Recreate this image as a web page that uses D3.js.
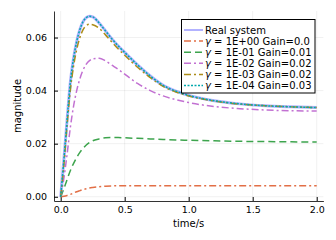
<!DOCTYPE html>
<html lang="en">
<head>
<meta charset="UTF-8">
<title>Step response magnitude</title>
<script src="https://d3js.org/d3.v7.min.js"></script>
<style>
  body { margin: 0; background: #fff; }
  svg { display: block; font-family: "DejaVu Sans", sans-serif; }
</style>
</head>
<body>
<div id="chart"></div>
<script>
// sample times (s)
const times = [0, 0.025, 0.05, 0.075, 0.1, 0.125, 0.15, 0.175, 0.2, 0.225, 0.25, 0.3, 0.35, 0.4, 0.45, 0.5,
               0.6, 0.7, 0.8, 0.9, 1.0, 1.2, 1.4, 1.6, 1.8, 2.0];

// magnitudes
const realSystem = [0, 0.014, 0.029, 0.043, 0.052, 0.0585, 0.063, 0.066, 0.0675, 0.068, 0.0678, 0.0655, 0.0625, 0.0595, 0.0568, 0.0544,
                    0.0497, 0.0455, 0.042, 0.0398, 0.0382, 0.0362, 0.035, 0.0343, 0.0339, 0.0336];
const gamma1e0 = [0, 0.0002, 0.0005, 0.0009, 0.0014, 0.0019, 0.0023, 0.0027, 0.003, 0.0033, 0.0035, 0.0038, 0.004, 0.0041, 0.0041, 0.0041,
                  0.0041, 0.0041, 0.0041, 0.0041, 0.0041, 0.0041, 0.0041, 0.0041, 0.0041, 0.0041];
const gamma1e1 = [0, 0.003, 0.0065, 0.0098, 0.0125, 0.0148, 0.0167, 0.0182, 0.0195, 0.0204, 0.0211, 0.0218, 0.0222, 0.0223, 0.0223, 0.0222,
                  0.022, 0.0218, 0.0216, 0.0214, 0.0213, 0.0211, 0.0209, 0.0208, 0.0207, 0.0206];
const gamma1e2 = [0, 0.007, 0.016, 0.026, 0.034, 0.04, 0.0445, 0.0478, 0.05, 0.0513, 0.052, 0.0522, 0.0512, 0.0496, 0.048, 0.0462,
                  0.0427, 0.04, 0.038, 0.0366, 0.0355, 0.034, 0.0332, 0.0327, 0.0324, 0.0323];
const gamma1e3 = [0, 0.012, 0.027, 0.04, 0.049, 0.0555, 0.06, 0.063, 0.0645, 0.065, 0.0648, 0.0635, 0.061, 0.0583, 0.0557, 0.0533,
                  0.0488, 0.0449, 0.0416, 0.0395, 0.038, 0.0361, 0.0349, 0.0343, 0.0339, 0.0336];
const gamma1e4 = [0, 0.014, 0.029, 0.043, 0.052, 0.0585, 0.063, 0.066, 0.0675, 0.068, 0.0678, 0.0655, 0.0625, 0.0595, 0.0568, 0.0544,
                  0.0497, 0.0455, 0.042, 0.0398, 0.0382, 0.0362, 0.035, 0.0343, 0.0339, 0.0336];

const gammaLabels = ["1E+00", "1E-01", "1E-02", "1E-03", "1E-04"];
const gainLabels = ["0.0", "0.01", "0.02", "0.02", "0.03"];

const xTicks = [0, 0.5, 1.0, 1.5, 2.0];
const yTicks = [0, 0.02, 0.04, 0.06];

const W = 336, H = 240;
const svg = d3.select("#chart").append("svg")
    .attr("width", W).attr("height", H);

const x = d3.scaleLinear().domain([-0.0523, 2.0523]).range([54, 323.4]);
const y = d3.scaleLinear().domain([-0.0016, 0.070]).range([201, 11]);

// grid
svg.append("g").selectAll("line").data(xTicks).join("line")
    .attr("x1", d => x(d)).attr("x2", d => x(d))
    .attr("y1", y.range()[0]).attr("y2", y.range()[1])
    .attr("stroke", "#000").attr("stroke-opacity", 0.1).attr("stroke-width", 0.6);
svg.append("g").selectAll("line").data(yTicks).join("line")
    .attr("x1", x.range()[0]).attr("x2", x.range()[1])
    .attr("y1", d => y(d)).attr("y2", d => y(d))
    .attr("stroke", "#000").attr("stroke-opacity", 0.1).attr("stroke-width", 0.6);

// axes (ticks pointing inward)
const xAxis = svg.append("g")
    .attr("transform", `translate(0,${y.range()[0]})`)
    .call(d3.axisBottom(x).tickValues(xTicks).tickFormat(d3.format(".1f")).tickSizeInner(-4).tickSizeOuter(0).tickPadding(5.5));
const yAxis = svg.append("g")
    .attr("transform", `translate(${x.range()[0]},0)`)
    .call(d3.axisLeft(y).tickValues(yTicks).tickFormat(d3.format(".2f")).tickSizeInner(-4).tickSizeOuter(0).tickPadding(7));
[xAxis, yAxis].forEach(a => {
    a.select(".domain").attr("stroke", "#333").attr("stroke-width", 1);
    a.selectAll(".tick line").attr("stroke", "#000").attr("stroke-width", 1);
    a.selectAll(".tick text").attr("fill", "#000").style("font-size", "9.5px").style("font-family", "DejaVu Sans");
});

svg.append("text")
    .attr("x", (x.range()[0] + x.range()[1]) / 2).attr("y", 226.5)
    .attr("text-anchor", "middle").style("font-size", "10px")
    .text("time/s");
svg.append("text")
    .attr("transform", `translate(21,${(y.range()[0] + y.range()[1]) / 2}) rotate(-90)`)
    .attr("text-anchor", "middle").style("font-size", "10px")
    .text("magnitude");

// series
const series = [
    { values: realSystem, color: "#0000ff", opacity: 0.3, width: 3, dash: null, label: "Real system" },
    { values: gamma1e0, color: "#e26f46", opacity: 1, width: 1.5, dash: "7,3,2,3", gi: 0 },
    { values: gamma1e1, color: "#3da44d", opacity: 1, width: 1.5, dash: "7,4", gi: 1 },
    { values: gamma1e2, color: "#c271d2", opacity: 1, width: 1.5, dash: "7,3,2,3", gi: 2 },
    { values: gamma1e3, color: "#ac8d18", opacity: 1, width: 1.5, dash: "7,3,2,3", gi: 3 },
    { values: gamma1e4, color: "#00a9ad", opacity: 1, width: 1.5, dash: "2,1.5", gi: 4 }
];

const line = d3.line()
    .x((d, i) => x(times[i]))
    .y(d => y(d))
    .curve(d3.curveMonotoneX);

series.forEach(s => {
    svg.append("path")
        .datum(s.values)
        .attr("fill", "none")
        .attr("stroke", s.color)
        .attr("stroke-opacity", s.opacity)
        .attr("stroke-width", s.width)
        .attr("stroke-dasharray", s.dash)
        .attr("d", line);
});

// legend
const lg = svg.append("g");
lg.append("rect")
    .attr("x", 181.5).attr("y", 19.5).attr("width", 133.5).attr("height", 73.5)
    .attr("fill", "#fff").attr("stroke", "#000").attr("stroke-width", 1);

series.forEach((s, i) => {
    const ly = 30 + i * 11.1;
    lg.append("line")
        .attr("x1", 184).attr("x2", 203).attr("y1", ly).attr("y2", ly)
        .attr("stroke", s.color).attr("stroke-opacity", s.opacity)
        .attr("stroke-width", s.width === 3 ? 2 : s.width).attr("stroke-dasharray", s.dash);
    const t = lg.append("text").attr("x", 205).attr("y", ly + 3.6).style("font-size", "10px");
    if (s.label) {
        t.text(s.label);
    } else {
        t.append("tspan").style("font-style", "italic").text("γ");
        t.append("tspan").text(` = ${gammaLabels[s.gi]} Gain=${gainLabels[s.gi]}`);
    }
});
</script>
</body>
</html>
